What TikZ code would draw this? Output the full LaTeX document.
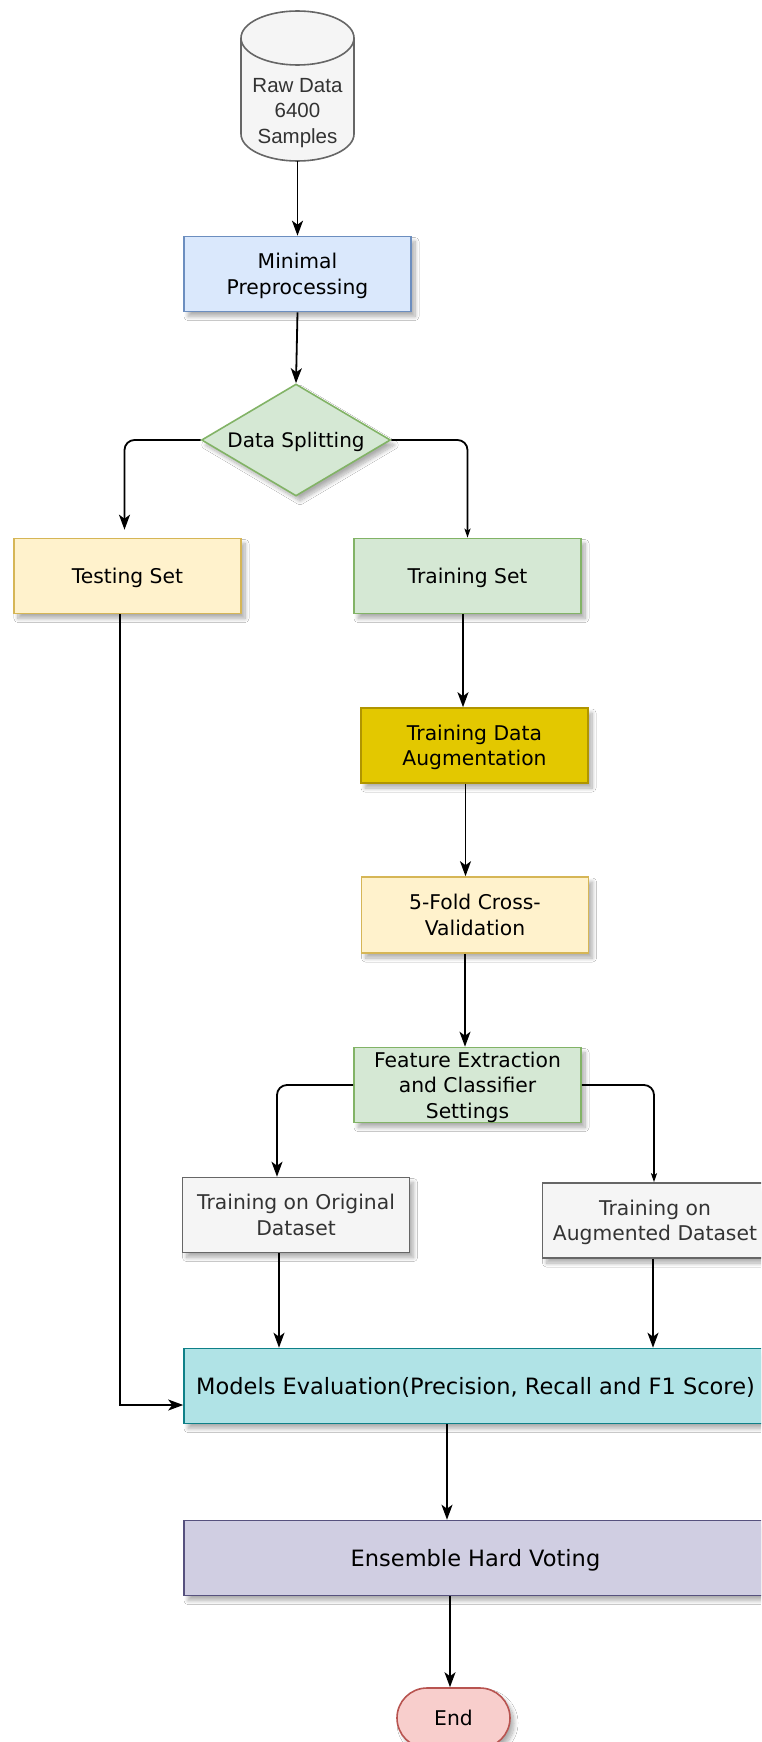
\documentclass[tikz,border=0pt]{standalone}
\usepackage{fontspec}
\setmainfont{DejaVu Sans}
\newfontfamily\arialfont{Liberation Sans}
\usetikzlibrary{arrows.meta,shapes.geometric,shadows.blur}

\definecolor{grayfill}{HTML}{F5F5F5}
\definecolor{grayline}{HTML}{666666}
\definecolor{graytext}{HTML}{333333}
\definecolor{bluefill}{HTML}{DAE8FC}
\definecolor{blueline}{HTML}{6C8EBF}
\definecolor{greenfill}{HTML}{D5E8D4}
\definecolor{greenline}{HTML}{82B366}
\definecolor{creamfill}{HTML}{FFF2CC}
\definecolor{creamline}{HTML}{D6B656}
\definecolor{goldfill}{HTML}{E3C800}
\definecolor{goldline}{HTML}{B09500}
\definecolor{tealfill}{HTML}{B0E3E6}
\definecolor{tealline}{HTML}{0E8088}
\definecolor{lilacfill}{HTML}{D0CEE2}
\definecolor{lilacline}{HTML}{56517E}
\definecolor{rosefill}{HTML}{F8CECC}
\definecolor{roseline}{HTML}{B85450}

\tikzset{
  soft shadow/.style={blur shadow={shadow xshift=4pt, shadow yshift=-5pt,
      shadow blur radius=4pt, shadow blur steps=10, shadow opacity=32}},
  box/.style={rectangle, draw, line width=1.6pt, inner sep=0pt,
      minimum width=227pt, minimum height=75pt, align=center, text depth=0pt,
      font=\fontsize{20.3}{25.5}\selectfont, soft shadow},
  widebox/.style={box, minimum width=583pt,
      font=\fontsize{22.5}{27}\selectfont},
  flow/.style={line width=1.8pt, rounded corners=10pt,
      -{Stealth[length=15pt,width=11pt,inset=4pt]}},
  thinflow/.style={line width=1.8pt, rounded corners=10pt,
      -{Stealth[length=9pt,width=6pt,inset=2pt]}},
}

\begin{document}
\begin{tikzpicture}[x=1pt,y=1pt]
\clip (0,0) rectangle (761,-1742);
\fill[white] (0,0) rectangle (761,-1742);

% raw data store
\fill[grayfill] (241,-38) -- (241,-134)
  arc[start angle=180, end angle=360, x radius=56.5, y radius=27]
  -- (354,-38)
  arc[start angle=0, end angle=180, x radius=56.5, y radius=27] -- cycle;
\draw[grayline, line width=1.6pt] (241,-38) -- (241,-134)
  arc[start angle=180, end angle=360, x radius=56.5, y radius=27]
  -- (354,-38)
  arc[start angle=0, end angle=180, x radius=56.5, y radius=27] -- cycle;
\draw[grayline, line width=1.6pt] (241,-38)
  arc[start angle=180, end angle=360, x radius=56.5, y radius=27];
\node[minimum width=113pt, minimum height=150pt, inner sep=0pt] (raw) at (297.5,-86) {};
\node[align=center, text=graytext, font=\arialfont\fontsize{20.5}{25.5}\selectfont]
  (rawlbl) at (297.5,-113) {Raw Data\\6400\\Samples};

% process steps
\node[box, fill=bluefill, draw=blueline] (prep) at (297.5,-274) {Minimal\\Preprocessing};
\node[diamond, draw=greenline, fill=greenfill, line width=1.6pt, inner sep=0pt,
      aspect=1.69, minimum width=189pt, minimum height=112pt, text depth=0pt,
      font=\fontsize{20}{25}\selectfont, soft shadow] (split) at (296,-440) {Data Splitting};
\node[box, fill=creamfill, draw=creamline] (test) at (127.5,-576) {Testing Set};
\node[box, fill=greenfill, draw=greenline] (train) at (467.5,-576) {Training Set};
\node[box, fill=goldfill, draw=goldline] (aug) at (474.5,-745.5) {Training Data\\Augmentation};
\node[box, fill=creamfill, draw=creamline, minimum height=76pt] (fold) at (475,-915) {5-Fold Cross-\\Validation};
\node[box, fill=greenfill, draw=greenline] (feat) at (467.5,-1085) {Feature Extraction\\and Classifier\\Settings};
\node[box, fill=grayfill, draw=grayline, text=graytext] (orig) at (296,-1215) {Training on Original\\Dataset};
\node[box, fill=grayfill, draw=grayline, text=graytext, minimum width=225pt] (augtr) at (655,-1220.5) {Training on\\Augmented Dataset};
\node[widebox, fill=tealfill, draw=tealline] (eval) at (475.5,-1386) {Models Evaluation(Precision, Recall and F1 Score)};
\node[widebox, fill=lilacfill, draw=lilacline] (ens) at (475.5,-1558) {Ensemble Hard Voting};
\node[box, fill=rosefill, draw=roseline, minimum width=113pt, minimum height=60pt,
      rounded corners=30pt] (end) at (453.5,-1718) {End};

% connectors
\draw[flow] (raw.south) -- (prep.north);
\draw[flow] (prep.south) -- (split.north);
\draw[flow] (split.west) -| ([xshift=-3pt,yshift=8pt]test.north);
\draw[thinflow] (split.east) -| (train.north);
\draw[flow] ([xshift=-4.5pt]train.south) -- ([xshift=-4.5pt]train.south |- aug.north);
\draw[flow] ([xshift=-9pt]aug.south) -- ([xshift=-9pt]aug.south |- fold.north);
\draw[flow] ([xshift=-10pt]fold.south) -- ([xshift=-10pt]fold.south |- feat.north);
\draw[flow] (feat.west) -| ([xshift=-19pt]orig.north);
\draw[thinflow] (feat.east) -| ([xshift=-1pt]augtr.north);
\draw[flow] ([xshift=-17pt]orig.south) -- ([xshift=-17pt]orig.south |- eval.north);
\draw[flow] ([xshift=-2pt]augtr.south) -- ([xshift=-2pt]augtr.south |- eval.north);
\draw[flow, sharp corners] ([xshift=-7.5pt]test.south) |- ([yshift=-19pt]eval.west);
\draw[flow] ([xshift=-28.5pt]eval.south) -- ([xshift=-28.5pt]eval.south |- ens.north);
\draw[flow] ([xshift=-25.5pt]ens.south) -- ([xshift=-25.5pt]ens.south |- end.north);
\end{tikzpicture}
\end{document}
